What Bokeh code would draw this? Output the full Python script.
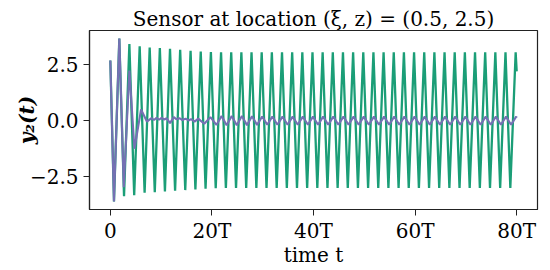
from bokeh.plotting import figure
from bokeh.embed import file_html
from bokeh.resources import INLINE
from bokeh.models import FixedTicker, Range1d

# ---- data ----
green_t = [0, 0.72, 1.77, 2.7, 3.75, 4.7, 5.78, 6.75, 7.75, 8.75, 9.75, 10.75, 11.75,
           12.75, 13.75, 14.75, 15.8, 16.75, 17.8, 18.75, 19.8, 20.75, 21.8, 22.75, 23.8,
           24.75, 25.8, 26.75, 27.8, 28.75, 29.8, 30.75, 31.8, 32.75, 33.8, 34.75, 35.8,
           36.75, 37.8, 38.75, 39.8, 40.75, 41.8, 42.75, 43.8, 44.75, 45.8, 46.75, 47.8,
           48.75, 49.8, 50.75, 51.8, 52.75, 53.8, 54.75, 55.8, 56.75, 57.8, 58.75, 59.8,
           60.75, 61.8, 62.75, 63.8, 64.75, 65.8, 66.75, 67.8, 68.75, 69.8, 70.75, 71.8,
           72.75, 73.8, 74.75, 75.8, 76.75, 77.8, 78.75, 79.8, 80]
green_v = [2.69, -3.63, 3.67, -3.39, 3.42, -3.35, 3.32, -3.24, 3.27, -3.21, 3.24, -3.18, 3.21,
           -3.15, 3.17, -3.12, 3.12, -3.09, 3.09, -3.06, 3.06, -3.04, 3.05, -3.03, 3.05,
           -3.02, 3.05, -3.02, 3.05, -3.02, 3.05, -3.02, 3.05, -3.02, 3.05, -3.02, 3.05,
           -3.02, 3.05, -3.02, 3.05, -3.02, 3.05, -3.02, 3.05, -3.02, 3.05, -3.02, 3.05,
           -3.02, 3.05, -3.02, 3.05, -3.02, 3.05, -3.02, 3.05, -3.02, 3.05, -3.02, 3.05,
           -3.02, 3.05, -3.02, 3.05, -3.02, 3.05, -3.02, 3.05, -3.02, 3.05, -3.02, 3.05,
           -3.02, 3.05, -3.02, 3.05, -3.02, 3.05, -3.02, 3.05, 2.2]

purple_t = [0, 0.72, 1.77, 2.65, 3.75, 4.75, 6.05, 7.2, 8.1, 8.6, 9.1, 9.6, 10.1, 10.6,
            11.1, 11.75, 12.5, 13.0, 13.6, 14.2, 14.8, 15.4, 15.9, 16.6, 17.3, 18.5, 19.7,
            20.9, 21.9, 22.9, 23.9, 24.9, 25.9, 26.9, 27.9, 28.9, 29.9, 30.9, 31.9, 32.9,
            33.9, 34.9, 35.9, 36.9, 37.9, 38.9, 39.9, 40.9, 41.9, 42.9, 43.9, 44.9, 45.9,
            46.9, 47.9, 48.9, 49.9, 50.9, 51.9, 52.9, 53.9, 54.9, 55.9, 56.9, 57.9, 58.9,
            59.9, 60.9, 61.9, 62.9, 63.9, 64.9, 65.9, 66.9, 67.9, 68.9, 69.9, 70.9, 71.9,
            72.9, 73.9, 74.9, 75.9, 76.9, 77.9, 78.9, 79.9, 80]
purple_v = [2.69, -3.63, 3.67, -2.99, 2.24, -1.27, 0.49, -0.05, 0.10, 0.02, 0.12, 0.03, 0.12, 0.04,
            0.10, -0.12, 0.15, 0.05, 0.10, 0.02, 0.08, 0.0, 0.06, -0.05, 0.08, -0.15, 0.15,
            -0.2, 0.2, -0.22, 0.2, -0.22, 0.2, -0.21, 0.19, -0.2, 0.18, -0.19, 0.17, -0.19,
            0.17, -0.19, 0.17, -0.19, 0.17, -0.19, 0.17, -0.19, 0.17, -0.19, 0.17, -0.19, 0.17,
            -0.19, 0.17, -0.19, 0.17, -0.19, 0.17, -0.19, 0.17, -0.19, 0.17, -0.19, 0.17, -0.19,
            0.17, -0.19, 0.17, -0.19, 0.17, -0.19, 0.17, -0.19, 0.17, -0.19, 0.17, -0.19, 0.17,
            -0.19, 0.17, -0.19, 0.17, -0.19, 0.17, -0.19, 0.17, 0.12]

x_ticks = [0, 20, 40, 60, 80]
x_tick_labels = ["0", "20T", "40T", "60T", "80T"]
y_ticks = [-2.5, 0.0, 2.5]
y_tick_labels = ["−2.5", "0.0", "2.5"]

TITLE = "Sensor at location (ξ, z) = (0.5, 2.5)"
FONT = "DejaVu Serif"

p = figure(width=550, height=270, output_backend="svg", toolbar_location=None,
           x_range=Range1d(-4.1, 84.1), y_range=Range1d(-3.99, 4.03),
           title=TITLE)
p.min_border_left = 89
p.min_border_right = 13
p.min_border_top = 30
p.min_border_bottom = 61

p.title.align = "center"
p.title.text_font = FONT
p.title.text_font_size = "20px"
p.title.text_font_style = "normal"
p.title.text_color = "black"
p.title.standoff = 0
p.title.offset = 0

p.line(green_t, green_v, line_color="#1b9e77", line_width=2.3)
p.line(purple_t, purple_v, line_color="#7570b3", line_width=2.1)

p.xgrid.visible = False
p.ygrid.visible = False
p.outline_line_color = "#222222"
p.outline_line_width = 1.2
p.outline_line_alpha = 1.0

for ax in (p.xaxis[0], p.yaxis[0]):
    ax.axis_line_color = "#222222"
    ax.axis_line_width = 1.2
    ax.major_tick_line_color = "#222222"
    ax.major_tick_out = 6
    ax.major_tick_in = 0
    ax.minor_tick_line_color = None
    ax.major_label_text_font = FONT
    ax.major_label_text_font_size = "20px"
    ax.major_label_text_color = "black"
    ax.axis_label_text_font = FONT
    ax.axis_label_text_font_size = "20px"
    ax.axis_label_text_color = "black"

p.xaxis.ticker = FixedTicker(ticks=x_ticks)
p.xaxis.major_label_overrides = dict(zip(x_ticks, x_tick_labels))
p.xaxis.major_label_standoff = 3
p.yaxis.ticker = FixedTicker(ticks=y_ticks)
p.yaxis.major_label_overrides = dict(zip(y_ticks, y_tick_labels))
p.yaxis.major_label_standoff = 5

p.xaxis.axis_label = "time t"
p.xaxis.axis_label_text_font_style = "normal"
p.xaxis.axis_label_standoff = -3
p.yaxis.axis_label = "y₂(t)"
p.yaxis.axis_label_text_font_style = "bold italic"
p.yaxis.axis_label_standoff = -12

open("out.html", "w").write(file_html(p, INLINE))
